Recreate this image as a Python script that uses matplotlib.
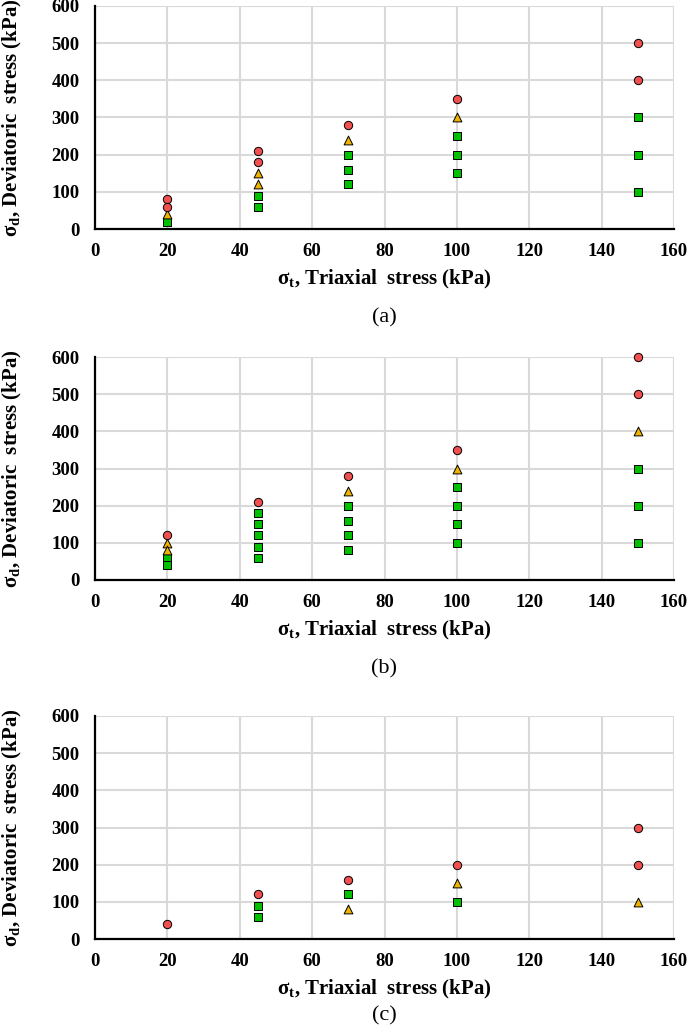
import matplotlib.pyplot as plt

plt.rcParams['font.family'] = ['Liberation Serif', 'DejaVu Serif']
plt.rcParams['mathtext.fontset'] = 'custom'
plt.rcParams['mathtext.rm'] = 'Liberation Serif'
plt.rcParams['mathtext.bf'] = 'Liberation Serif:bold'

# panel (a)
a_circle_x = [20, 20, 45, 45, 70, 100, 150, 150]
a_circle_y = [80, 60, 210, 180, 280, 350, 500, 400]
a_tri_x = [20, 45, 45, 70, 100]
a_tri_y = [40, 150, 120, 240, 300]
a_sq_x = [20, 45, 45, 70, 70, 70, 100, 100, 100, 150, 150, 150]
a_sq_y = [20, 90, 60, 200, 160, 120, 250, 200, 150, 300, 200, 100]

# panel (b)
b_circle_x = [20, 45, 70, 100, 150, 150]
b_circle_y = [120, 210, 280, 350, 600, 500]
b_tri_x = [20, 20, 70, 100, 150]
b_tri_y = [100, 80, 240, 300, 400]
b_sq_x = [20, 20, 45, 45, 45, 45, 45, 70, 70, 70, 70, 100, 100, 100, 100, 150, 150, 150]
b_sq_y = [60, 40, 180, 150, 120, 90, 60, 200, 160, 120, 80, 250, 200, 150, 100, 300, 200, 100]

# panel (c)
c_circle_x = [20, 45, 70, 100, 150, 150]
c_circle_y = [40, 120, 160, 200, 300, 200]
c_tri_x = [70, 100, 150]
c_tri_y = [80, 150, 100]
c_sq_x = [45, 45, 70, 100]
c_sq_y = [90, 60, 120, 100]

panels = [
    ('(a)', a_circle_x, a_circle_y, a_tri_x, a_tri_y, a_sq_x, a_sq_y),
    ('(b)', b_circle_x, b_circle_y, b_tri_x, b_tri_y, b_sq_x, b_sq_y),
    ('(c)', c_circle_x, c_circle_y, c_tri_x, c_tri_y, c_sq_x, c_sq_y),
]

W, H = 690, 1032
fig = plt.figure(figsize=(W / 100, H / 100), dpi=100)

# axes boxes in pixels: top, bottom, caption y
boxes = [(6, 229, 318), (357, 580, 669), (716, 939, 1016)]
left, right = 95, 674
aw = right - left

for (cap, cx, cy, tx, ty, sx, sy), (top, bot, cap_y) in zip(panels, boxes):
    ah = bot - top
    ax = fig.add_axes([left / W, 1 - bot / H, aw / W, ah / H])
    ax.set_xlim(0, 160)
    ax.set_ylim(0, 600)
    ax.set_xticks(range(0, 161, 20))
    ax.set_yticks(range(0, 601, 100))
    ax.grid(True, color='#d9d9d9', linewidth=1.5)
    ax.set_axisbelow(True)
    for s in ['top', 'right']:
        ax.spines[s].set_visible(False)
    for s in ['left', 'bottom']:
        ax.spines[s].set_linewidth(1.6)
    ax.tick_params(length=0, labelsize=13.5)
    ax.tick_params(axis='x', pad=10)
    ax.tick_params(axis='y', pad=11)
    for lbl in ax.get_xticklabels() + ax.get_yticklabels():
        lbl.set_fontweight('bold')

    ax.scatter(sx, sy, marker='s', s=30, color='#00c000', edgecolors='black', linewidths=0.7, zorder=3, clip_on=False)
    ax.scatter(tx, ty, marker='^', s=40, color='#f0b400', edgecolors='black', linewidths=0.7, zorder=4, clip_on=False)
    ax.scatter(cx, cy, marker='o', s=36, color='#f05050', edgecolors='black', linewidths=0.7, zorder=5, clip_on=False)

    ax.set_xlabel(r'σ$_\mathbf{t}$, Triaxial  stress (kPa)', fontsize=15, fontweight='bold')
    ax.set_ylabel(r'σ$_\mathbf{d}$, Deviatoric  stress (kPa)', fontsize=15, fontweight='bold')
    ax.xaxis.label.set_va('center')
    ax.yaxis.label.set_va('center')
    ax.xaxis.set_label_coords(0.5, -50 / ah)
    ax.yaxis.set_label_coords((12 - left) / aw, 0.5)
    ax.text(0.5, (bot - cap_y) / ah, cap, transform=ax.transAxes, ha='center', va='center', fontsize=16)

fig.savefig('out.png', dpi=100, facecolor='white')
